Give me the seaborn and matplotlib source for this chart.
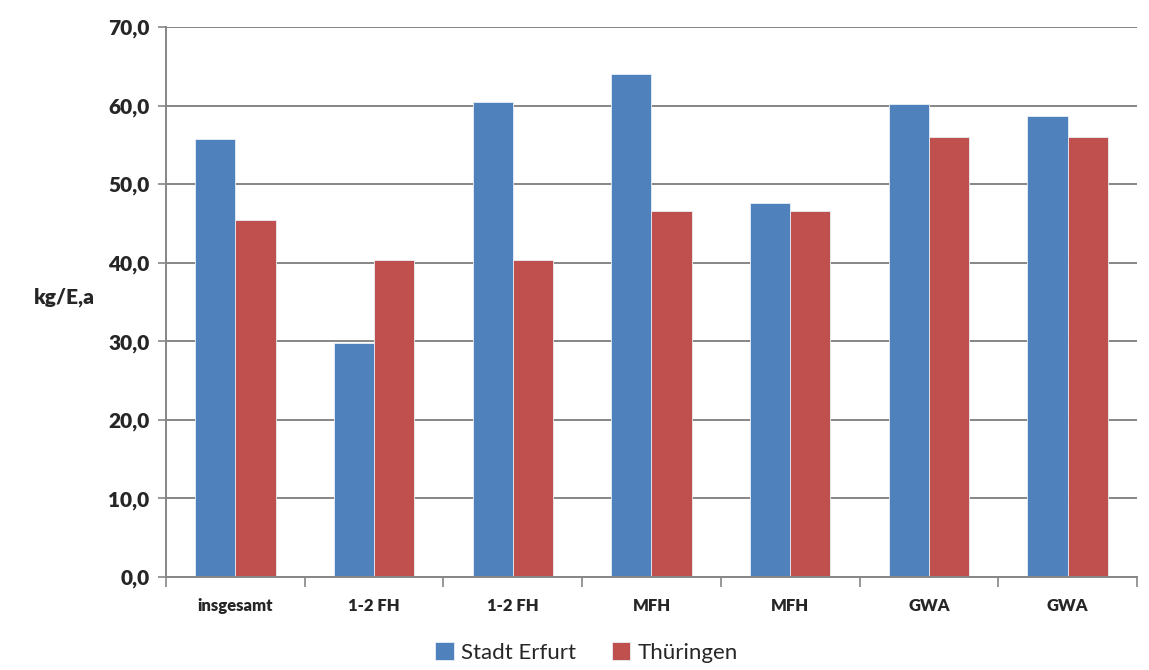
import pandas as pd
import numpy as np
import matplotlib.pyplot as plt
import seaborn as sns

categories = ['insgesamt', '1-2 FH', '1-2 FH', 'MFH', 'MFH', 'GWA', 'GWA']
erfurt = [55.7, 29.8, 60.4, 64.0, 47.6, 60.2, 58.7]
thueringen = [45.4, 40.4, 40.4, 46.6, 46.6, 56.0, 56.0]
series = ['Stadt Erfurt', 'Thüringen']
colors = ['#4F81BD', '#C0504D']

# labels repeat, so use a position key for seaborn and put labels back afterwards
keys = [str(i) for i in range(len(categories))]
df = pd.DataFrame({
    'key': keys * 2,
    'Wert': erfurt + thueringen,
    'Reihe': [series[0]] * len(keys) + [series[1]] * len(keys),
})

sns.set_style('white')
plt.rcParams['font.family'] = ['Lato', 'DejaVu Sans']

fig = plt.figure(figsize=(11.49, 6.70), dpi=100)
ax = fig.add_axes([0.1445, 0.1388, 0.845, 0.821])

sns.barplot(data=df, x='key', y='Wert', hue='Reihe', order=keys,
            hue_order=series, palette=colors, width=0.58, dodge=True,
            saturation=1, edgecolor='#e8eef6', linewidth=0.6, ax=ax,
            legend=True)

ax.set_ylim(0, 70)
ax.set_xlim(-0.5, len(keys) - 0.5)
yt = np.arange(0, 71, 10)
ax.set_yticks(yt)
ax.set_yticklabels([f'{v:.1f}'.replace('.', ',') for v in yt],
                   fontsize=15, fontweight='heavy')
ax.yaxis.grid(True, color='#868686', linewidth=1.4)
ax.set_axisbelow(True)

# category labels in the middle, ticks at the boundaries like Excel
ax.set_xticks(range(len(keys)))
ax.set_xticklabels(categories, fontsize=12, fontweight='heavy')
ax.tick_params(axis='x', which='major', length=0, pad=15, bottom=True)
ax.set_xticks(np.arange(-0.5, len(keys), 1), minor=True)
ax.tick_params(axis='x', which='minor', length=7, color='#868686',
               width=1.2, bottom=True)
ax.tick_params(axis='y', length=6, color='#868686', width=1.2, pad=6,
               left=True)

for s in ['top', 'right']:
    ax.spines[s].set_visible(False)
for s in ['left', 'bottom']:
    ax.spines[s].set_color('#868686')
    ax.spines[s].set_linewidth(1.4)

ax.set_xlabel('')
ax.set_ylabel('kg/E,a', fontsize=15, fontweight='heavy', rotation=0,
              labelpad=0)
ax.yaxis.set_label_coords(-0.105, 0.49)

ax.legend(loc='upper center', bbox_to_anchor=(0.433, -0.098), ncol=2,
          frameon=False, fontsize=16, handlelength=0.85, handleheight=0.85,
          handletextpad=0.3, columnspacing=1.6, borderpad=0)

fig.savefig('out.png', dpi=100)
